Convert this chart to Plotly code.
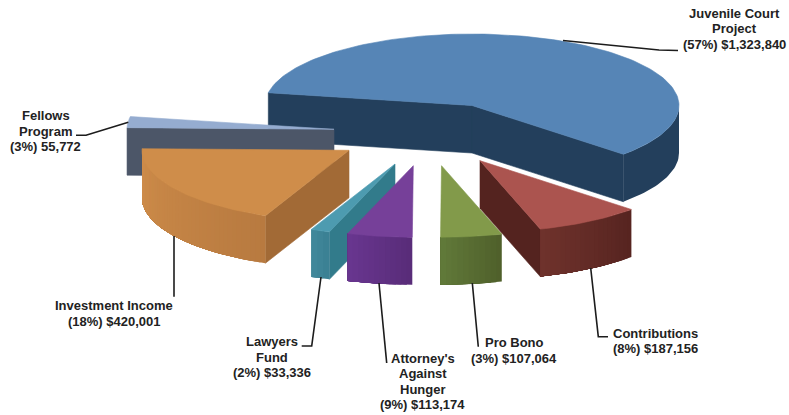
import math
import plotly.graph_objects as go

categories = ["Juvenile Court Project", "Contributions", "Pro Bono",
              "Attorney's Against Hunger", "Lawyers Fund", "Investment Income",
              "Fellows Program"]
values = [1323840, 187156, 107064, 113174, 33336, 420001, 55772]
label_lines = [
    ["Juvenile Court", "Project", "(57%) $1,323,840"],
    ["Contributions", "(8%) $187,156"],
    ["Pro Bono", "(3%) $107,064"],
    ["Attorney's", "Against", "Hunger", "(9%) $113,174"],
    ["Lawyers", "Fund", "(2%) $33,336"],
    ["Investment Income", "(18%) $420,001"],
    ["Fellows", "Program", "(3%) 55,772"],
]

# styling / layout
W, H = 789, 415
RX, RY, DEPTH = 207, 71.5, 47.5
START = 43.0
apex = [(472, 105.5), (480, 160.7), (441.5, 165.7), (413.3, 165.7), (395, 164), (349, 150.3), (334, 129.3)]
top_col = ["#5685b6", "#ab544f", "#829a4a", "#764099", "#4d9bb0", "#cf8d4a", "#95acd0"]
wall_right = ["#233f5c", "#562420", "#4f5f2a", "#582c78", "#3a7f92", "#b87a40", "#4c5668"]
wall_left = ["#233f5c", "#6f322c", "#617a3a", "#693690", "#41899c", "#cf8d4a", "#4c5668"]
face_start = ["#233f5c", None, None, None, "#327b8b", "#a26a36", "#4c5668"]
face_end = ["#233f5c", "#54231f", None, None, None, None, None]
draw_order = [0, 6, 5, 4, 3, 2, 1]
label_pos = [(734, 13), (655.3, 333), (514, 342.7), (422.7, 358.3), (271.7, 341.7), (114, 305.7), (45.7, 115.7)]
LINE_STEP = 15.5
leaders = [
    [(563, 40.5), (659, 50), (678, 50.5)],
    [(590.7, 268), (598.3, 336.7), (608, 336.7)],
    [(472.3, 283), (478.3, 346.7)],
    [(379, 283), (386.7, 363)],
    [(321, 277), (311.7, 346), (301.7, 346)],
    [(174, 236), (174, 296.7)],
    [(76, 135.3), (86, 135.3), (128.3, 122.3)],
]


def hex2rgb(c):
    return tuple(int(c[i:i + 2], 16) for i in (1, 3, 5))


def mix(a, b, t):
    ra, rb = hex2rgb(a), hex2rgb(b)
    return "rgb(%d,%d,%d)" % tuple(round(x + (y - x) * t) for x, y in zip(ra, rb))


def rim(c, th):
    r = math.radians(th)
    return c[0] + RX * math.cos(r), c[1] + RY * math.sin(r)


fig = go.Figure()


def poly(pts, color, lw=0.6):
    xs = [p[0] for p in pts] + [pts[0][0]]
    ys = [p[1] for p in pts] + [pts[0][1]]
    fig.add_trace(go.Scatter(x=xs, y=ys, mode="lines", fill="toself", fillcolor=color,
                             line=dict(color=color, width=lw), hoverinfo="skip", showlegend=False))


total = sum(values)
angles, th = [], START - 360 * values[0] / total
for v in values:
    sweep = 360 * v / total
    angles.append((th, th + sweep))
    th += sweep

for i in draw_order:
    c = apex[i]
    a0, a1 = angles[i]
    # cut faces
    for th_f, col in ((a0, face_start[i]), (a1, face_end[i])):
        if col:
            p = rim(c, th_f)
            poly([c, p, (p[0], p[1] + DEPTH), (c[0], c[1] + DEPTH)], col)
    # outer wall, painted as overlapping bands (only the front-facing part, 0..180 deg)
    lo, hi = max(a0, 0), min(a1, 180)
    if hi > lo:
        n = 1 if wall_left[i] == wall_right[i] else max(2, int((hi - lo) / 1.5))
        m = max(4, int((hi - lo) / 1.5))
        for k in range(n):
            t0 = lo + (hi - lo) * k / n
            ths = [t0 + (hi - t0) * j / m for j in range(m + 1)]
            up = [rim(c, t) for t in ths]
            dn = [(x, y + DEPTH) for x, y in reversed(up)]
            poly(up + dn, mix(wall_right[i], wall_left[i], (k + .5) / n), lw=0)
    # top surface
    m = max(4, int((a1 - a0) / 1.5))
    arc = [rim(c, a0 + (a1 - a0) * j / m) for j in range(m + 1)]
    poly([c] + arc, top_col[i])

for pts in leaders:
    fig.add_trace(go.Scatter(x=[p[0] for p in pts], y=[p[1] for p in pts], mode="lines",
                             line=dict(color="#1c1c1c", width=1.6), hoverinfo="skip", showlegend=False))

for lines, (lx, ly) in zip(label_lines, label_pos):
    for j, text in enumerate(lines):
        fig.add_annotation(x=lx, y=ly + j * LINE_STEP, text="<b>%s</b>" % text, showarrow=False,
                           xanchor="center", yanchor="middle",
                           font=dict(family="Liberation Sans", size=13, color="#222222"))

fig.update_layout(width=W, height=H, margin=dict(l=0, r=0, t=0, b=0), plot_bgcolor="white",
                  paper_bgcolor="white", showlegend=False,
                  xaxis=dict(range=[0, W], visible=False, fixedrange=True),
                  yaxis=dict(range=[H, 0], visible=False, fixedrange=True))
fig.write_html("out.html", config={"displayModeBar": False},
               post_script="document.body.style.margin='0';document.body.style.overflow='hidden';")
